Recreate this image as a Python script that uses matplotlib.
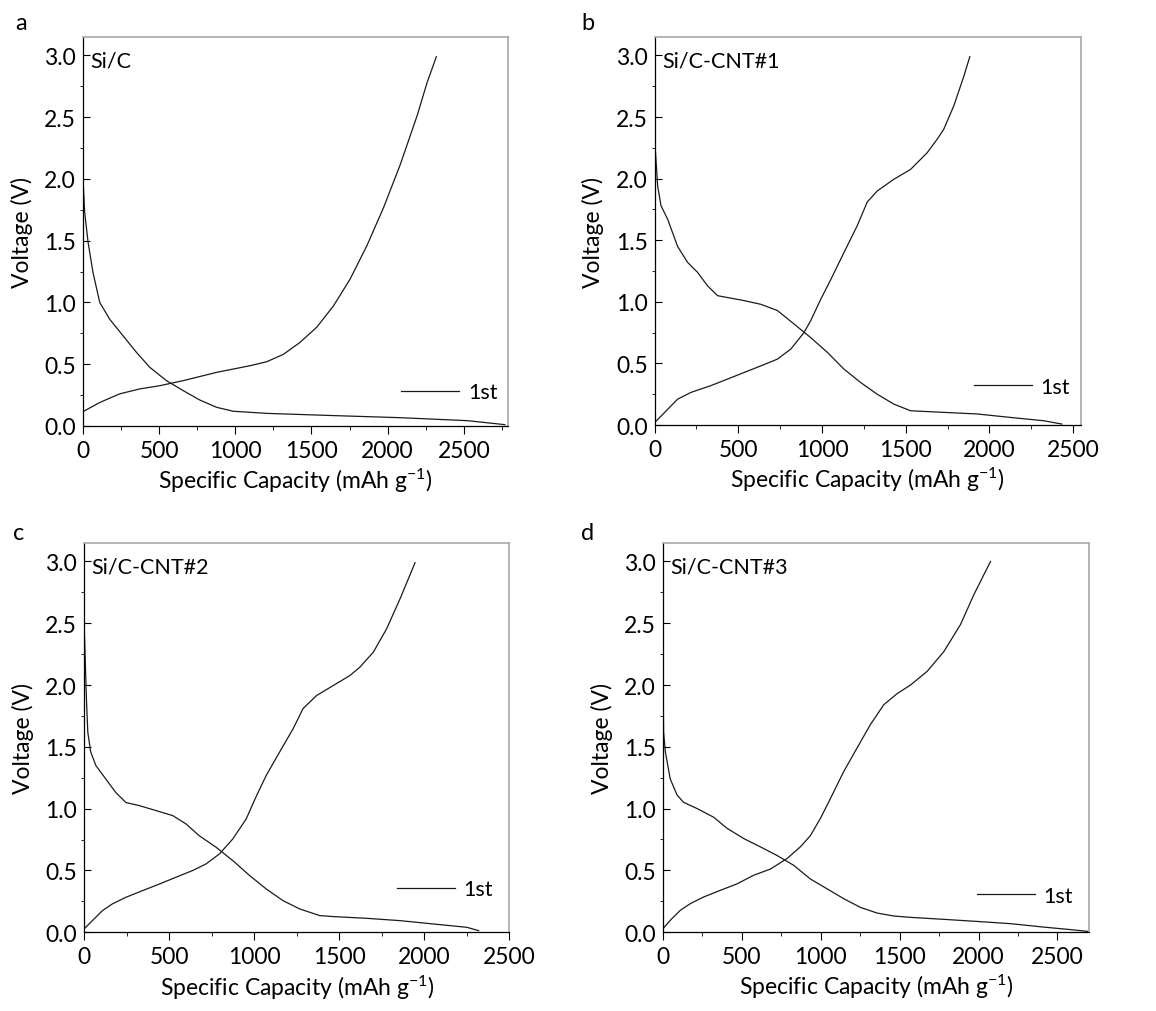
import matplotlib
matplotlib.use("Agg")
import matplotlib.pyplot as plt
from matplotlib.ticker import MultipleLocator, FormatStrFormatter

plt.rcParams["font.family"] = ["Lato", "DejaVu Sans"]
plt.rcParams["mathtext.fontset"] = "custom"
plt.rcParams["mathtext.rm"] = "Lato"
plt.rcParams["mathtext.default"] = "regular"

# ---- data (capacity mAh/g, voltage V) ----
# a: Si/C
a_dis_x = [0, 0, 11, 33, 66, 110, 175, 263, 351, 439, 548, 658, 767, 877, 987,
           1206, 1645, 2084, 2522, 2752, 2770]
a_dis_y = [2.55, 2.0, 1.73, 1.49, 1.24, 1.0, 0.865, 0.73, 0.596, 0.474, 0.367,
           0.286, 0.21, 0.151, 0.119, 0.102, 0.084, 0.067, 0.043, 0.013, 0.01]
a_chg_x = [0, 110, 241, 373, 504, 658, 877, 1097, 1206, 1316, 1425, 1535, 1645,
           1754, 1864, 1974, 2084, 2193, 2259, 2320]
a_chg_y = [0.116, 0.19, 0.26, 0.30, 0.326, 0.367, 0.434, 0.488, 0.52, 0.58,
           0.677, 0.80, 0.973, 1.19, 1.46, 1.77, 2.12, 2.51, 2.78, 2.99]

# b: Si/C-CNT#1
b_dis_x = [0, 3, 18, 38, 78, 137, 197, 256, 316, 376, 435, 535, 634, 733, 833,
           932, 1032, 1131, 1230, 1330, 1429, 1529, 1727, 1926, 2125, 2324, 2433]
b_dis_y = [2.5, 2.26, 1.94, 1.78, 1.67, 1.45, 1.32, 1.24, 1.13, 1.05, 1.035,
           1.01, 0.98, 0.93, 0.82, 0.71, 0.59, 0.454, 0.346, 0.25, 0.17, 0.116,
           0.103, 0.09, 0.062, 0.035, 0.008]
b_chg_x = [0, 58, 137, 217, 336, 435, 535, 634, 733, 813, 892, 932, 992, 1052,
           1131, 1211, 1270, 1330, 1429, 1529, 1628, 1688, 1727, 1787, 1847, 1883]
b_chg_y = [0.02, 0.1, 0.21, 0.265, 0.32, 0.373, 0.427, 0.48, 0.535, 0.616, 0.75,
           0.846, 1.02, 1.18, 1.4, 1.62, 1.81, 1.9, 1.995, 2.075, 2.21, 2.32,
           2.4, 2.59, 2.83, 2.99]

# c: Si/C-CNT#2
c_dis_x = [0, 2, 14, 22, 39, 69, 128, 187, 246, 324, 422, 521, 599, 678, 776,
           874, 973, 1071, 1169, 1267, 1385, 1464, 1660, 1857, 2053, 2250, 2319]
c_dis_y = [2.87, 2.43, 1.89, 1.62, 1.46, 1.35, 1.24, 1.13, 1.05, 1.025, 0.985,
           0.944, 0.877, 0.78, 0.688, 0.58, 0.459, 0.35, 0.256, 0.189, 0.135,
           0.127, 0.113, 0.094, 0.067, 0.04, 0.013]
c_chg_x = [0, 49, 108, 167, 246, 344, 442, 540, 639, 717, 796, 874, 953, 1012,
           1071, 1150, 1228, 1287, 1366, 1464, 1562, 1621, 1700, 1778, 1857,
           1906, 1945]
c_chg_y = [0.027, 0.094, 0.175, 0.23, 0.283, 0.337, 0.39, 0.445, 0.5, 0.553,
           0.634, 0.755, 0.917, 1.1, 1.27, 1.46, 1.645, 1.81, 1.915, 1.996,
           2.077, 2.145, 2.266, 2.455, 2.698, 2.86, 2.99]

# d: Si/C-CNT#3
d_dis_x = [0, 1, 4, 15, 46, 89, 131, 216, 321, 406, 512, 617, 723, 829, 934,
           1040, 1146, 1251, 1357, 1463, 1569, 1780, 1991, 2203, 2414, 2583, 2695]
d_dis_y = [2.4, 2.0, 1.62, 1.46, 1.24, 1.11, 1.05, 1.0, 0.93, 0.84, 0.757, 0.69,
           0.62, 0.54, 0.43, 0.35, 0.27, 0.2, 0.154, 0.13, 0.119, 0.103, 0.086,
           0.068, 0.04, 0.02, 0.005]
d_chg_x = [0, 46, 110, 173, 258, 364, 469, 575, 681, 786, 871, 934, 998, 1061,
           1146, 1230, 1315, 1399, 1484, 1569, 1674, 1780, 1886, 1970, 2076]
d_chg_y = [0.027, 0.095, 0.176, 0.23, 0.284, 0.338, 0.39, 0.46, 0.51, 0.595,
           0.69, 0.78, 0.92, 1.08, 1.3, 1.49, 1.68, 1.84, 1.93, 2.0, 2.11, 2.27,
           2.49, 2.73, 3.0]

letters = ["a", "b", "c", "d"]
names = ["Si/C", "Si/C-CNT#1", "Si/C-CNT#2", "Si/C-CNT#3"]
xmax = [2790, 2545, 2500, 2700]

panels = [
    (a_dis_x, a_dis_y, a_chg_x, a_chg_y),
    (b_dis_x, b_dis_y, b_chg_x, b_chg_y),
    (c_dis_x, c_dis_y, c_chg_x, c_chg_y),
    (d_dis_x, d_dis_y, d_chg_x, d_chg_y),
]

# axes boxes in figure fractions [left, bottom, width, height]
boxes = [
    [0.0718, 0.5781, 0.3676, 0.3844],
    [0.5663, 0.5790, 0.3685, 0.3835],
    [0.0727, 0.0778, 0.3680, 0.3847],
    [0.5735, 0.0780, 0.3685, 0.3845],
]
legend_pos = [(0.975, 0.087), (0.975, 0.098), (0.962, 0.111), (0.962, 0.093)]
letter_pos = [(0.013, 0.9704), (0.5026, 0.9704), (0.0112, 0.4664), (0.5026, 0.4664)]

fig = plt.figure(figsize=(11.56, 10.12), dpi=100, facecolor="white")
TICK_FS = 16.5
LABEL_FS = 16.5
NAME_FS = 15.5
LETTER_FS = 17
line_color = "#1a1a1a"

for i, (dx, dy, cx, cy) in enumerate(panels):
    ax = fig.add_axes(boxes[i])
    ax.plot(dx, dy, color=line_color, lw=0.9, label="1st")
    ax.plot(cx, cy, color=line_color, lw=0.9)

    ax.set_xlim(0, xmax[i])
    ax.set_ylim(0, 3.15)
    ax.xaxis.set_major_locator(MultipleLocator(500))
    ax.xaxis.set_minor_locator(MultipleLocator(250))
    ax.yaxis.set_major_locator(MultipleLocator(0.5))
    ax.yaxis.set_minor_locator(MultipleLocator(0.25))
    ax.yaxis.set_major_formatter(FormatStrFormatter("%.1f"))

    ax.tick_params(axis="x", which="major", direction="out", length=6, width=0.8,
                   labelsize=TICK_FS, pad=4)
    ax.tick_params(axis="x", which="minor", direction="out", length=3, width=0.6)
    ax.tick_params(axis="y", which="major", direction="in", length=5, width=0.8,
                   labelsize=TICK_FS, pad=5)
    ax.tick_params(axis="y", which="minor", direction="out", length=2, width=0.6)

    for side in ["left", "bottom"]:
        ax.spines[side].set_color("black")
        ax.spines[side].set_linewidth(0.9)
    for side in ["top", "right"]:
        ax.spines[side].set_color("#a8a8a8")
        ax.spines[side].set_linewidth(1.2)

    ax.set_xlabel("Specific Capacity (mAh g$^{-1}$)", fontsize=LABEL_FS)
    ax.set_ylabel("Voltage (V)", fontsize=LABEL_FS)
    ax.xaxis.set_label_coords(0.5, -0.103)
    ax.yaxis.set_label_coords(-0.118, 0.5)

    ax.text(0.018, 0.94, names[i], transform=ax.transAxes, fontsize=NAME_FS,
            ha="left", va="center")

    ax.legend(loc="center right", bbox_to_anchor=legend_pos[i], frameon=False,
              fontsize=NAME_FS, handlelength=2.7, handletextpad=0.4,
              borderpad=0, borderaxespad=0)

    fig.text(letter_pos[i][0], letter_pos[i][1], letters[i], fontsize=LETTER_FS,
             ha="left", va="baseline")

fig.savefig("out.png", dpi=100, facecolor="white")
